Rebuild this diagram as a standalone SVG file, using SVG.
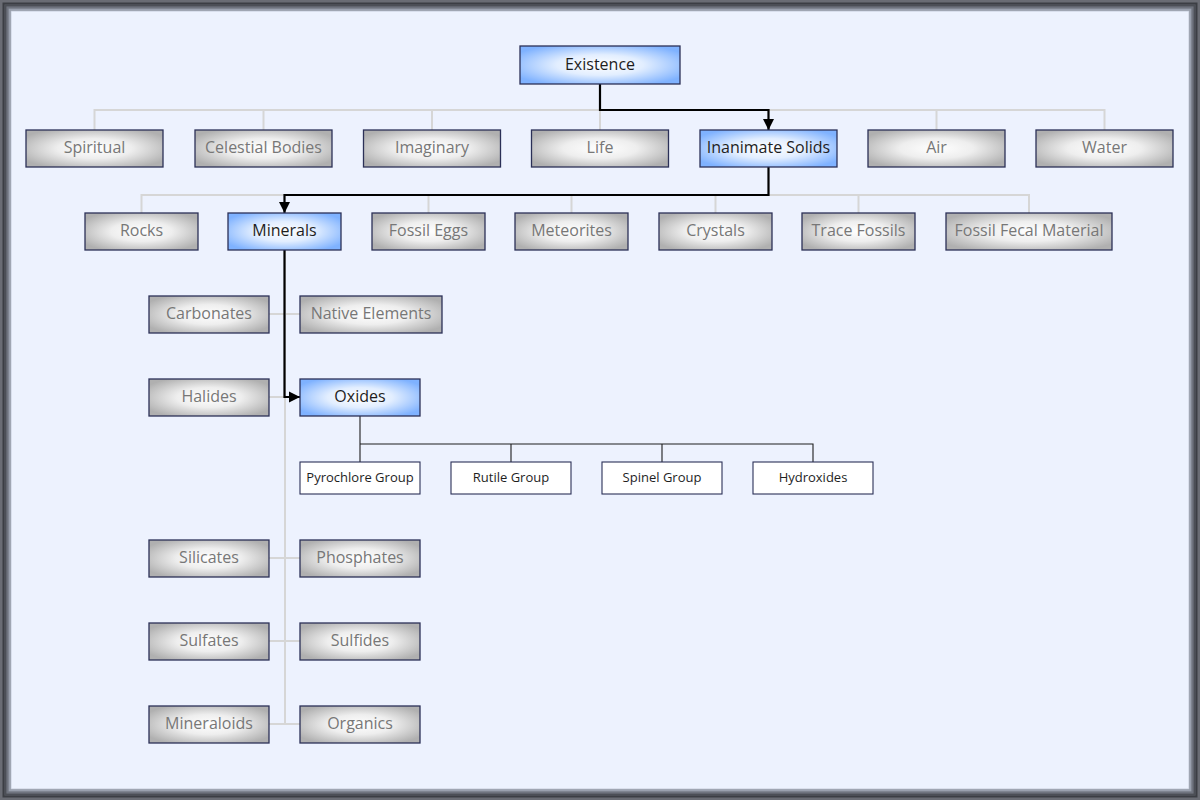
<svg xmlns="http://www.w3.org/2000/svg" width="1200" height="800" viewBox="0 0 1200 800">
<defs>
<radialGradient id="gGray" cx="50%" cy="50%" r="60%">
<stop offset="0" stop-color="#ffffff"/>
<stop offset="0.45" stop-color="#eeeeee"/>
<stop offset="1" stop-color="#b0b0b0"/>
</radialGradient>
<radialGradient id="gBlue" cx="50%" cy="50%" r="60%">
<stop offset="0" stop-color="#ffffff"/>
<stop offset="0.45" stop-color="#e2eeff"/>
<stop offset="1" stop-color="#7fb2ff"/>
</radialGradient>
<marker id="arr" viewBox="0 0 10 10" refX="10" refY="5" markerWidth="11" markerHeight="12" markerUnits="userSpaceOnUse" orient="auto">
<path d="M0,0 L10,5 L0,10 Z" fill="#000"/>
</marker>
</defs>
<style>
.g rect{fill:url(#gGray);stroke:#2b3057;stroke-width:1.3}
.b rect{fill:url(#gBlue);stroke:#2b3057;stroke-width:1.3}
.w rect{fill:#ffffff;stroke:#2b3057;stroke-width:1.1}
text{font-family:"Open Sans","DejaVu Sans",sans-serif;text-anchor:middle;dominant-baseline:central}
.g text{fill:#777777;font-size:16px}
.b text{fill:#1e1e1e;font-size:16px}
.w text{fill:#1e1e1e;font-size:13px}
.gl{fill:none;stroke:#d6d6d6;stroke-width:2}
.bl{fill:none;stroke:#000;stroke-width:2.2}
.tl{fill:none;stroke:#1e1e1e;stroke-width:1.1}
</style>
<!-- frame -->
<rect x="0" y="0" width="1200" height="800" fill="#5d6068"/>
<rect x="1.5" y="1.5" width="1197" height="797" fill="none" stroke="#6a6c74" stroke-width="3"/>
<rect x="3.5" y="3.5" width="1193" height="793" fill="none" stroke="#3c3e44" stroke-width="2"/>
<rect x="5.5" y="5.5" width="1189" height="789" fill="none" stroke="#4c4f56" stroke-width="2"/>
<rect x="7.5" y="7.5" width="1185" height="785" fill="none" stroke="#6f737e" stroke-width="2"/>
<rect x="9.5" y="9.5" width="1181" height="781" fill="none" stroke="#9aa0ae" stroke-width="2"/>
<rect x="11" y="11" width="1178" height="778" fill="#edf2fe" stroke="#c6ccdb" stroke-width="1"/>

<g id="connectors">
<path class="gl" d="M94.5,130 V110 H1104.5 V130 M263.5,110 V130 M432,110 V130 M600,110 V130 M936.5,110 V130"/>
<path class="gl" d="M141.5,213 V195 H1029 V213 M428.5,195 V213 M571.5,195 V213 M715.5,195 V213 M858.5,195 V213"/>
<path class="gl" d="M285,250 V724 M269,314 H300 M269,397 H300 M269,558 H300 M269,641 H300 M269,724 H300"/>
<path class="bl" d="M600,84 V110 H768.5 V130" marker-end="url(#arr)"/>
<path class="bl" d="M768.5,167 V195 H284.5 V213" marker-end="url(#arr)"/>
<path class="bl" d="M284.5,250 V397 H300" marker-end="url(#arr)"/>
<path class="tl" d="M360,416 V462 M360,444 H813 V462 M511,444 V462 M662,444 V462"/>
</g>

<g id="n-existence" class="b"><rect x="520" y="46" width="160" height="38"/><text x="600" y="63.5">Existence</text></g>

<g id="n-spiritual" class="g"><rect x="26" y="130" width="137" height="37"/><text x="94.5" y="147">Spiritual</text></g>
<g id="n-celestial" class="g"><rect x="195" y="130" width="137" height="37"/><text x="263.5" y="147">Celestial Bodies</text></g>
<g id="n-imaginary" class="g"><rect x="363.5" y="130" width="137" height="37"/><text x="432" y="147">Imaginary</text></g>
<g id="n-life" class="g"><rect x="531.5" y="130" width="137" height="37"/><text x="600" y="147">Life</text></g>
<g id="n-inanimate" class="b"><rect x="700" y="130" width="137" height="37"/><text x="768.5" y="147">Inanimate Solids</text></g>
<g id="n-air" class="g"><rect x="868" y="130" width="137" height="37"/><text x="936.5" y="147">Air</text></g>
<g id="n-water" class="g"><rect x="1036" y="130" width="137" height="37"/><text x="1104.5" y="147">Water</text></g>

<g id="n-rocks" class="g"><rect x="85" y="213" width="113" height="37"/><text x="141.5" y="230">Rocks</text></g>
<g id="n-minerals" class="b"><rect x="228" y="213" width="113" height="37"/><text x="284.5" y="230">Minerals</text></g>
<g id="n-fossileggs" class="g"><rect x="372" y="213" width="113" height="37"/><text x="428.5" y="230">Fossil Eggs</text></g>
<g id="n-meteorites" class="g"><rect x="515" y="213" width="113" height="37"/><text x="571.5" y="230">Meteorites</text></g>
<g id="n-crystals" class="g"><rect x="659" y="213" width="113" height="37"/><text x="715.5" y="230">Crystals</text></g>
<g id="n-tracefossils" class="g"><rect x="802" y="213" width="113" height="37"/><text x="858.5" y="230">Trace Fossils</text></g>
<g id="n-fecal" class="g"><rect x="946" y="213" width="166" height="37"/><text x="1029" y="230">Fossil Fecal Material</text></g>

<g id="n-carbonates" class="g"><rect x="149" y="296" width="120" height="37"/><text x="209" y="313">Carbonates</text></g>
<g id="n-native" class="g"><rect x="300" y="296" width="142" height="37"/><text x="371" y="313">Native Elements</text></g>
<g id="n-halides" class="g"><rect x="149" y="379" width="120" height="37"/><text x="209" y="396">Halides</text></g>
<g id="n-oxides" class="b"><rect x="300" y="379" width="120" height="37"/><text x="360" y="396">Oxides</text></g>
<g id="n-silicates" class="g"><rect x="149" y="540" width="120" height="37"/><text x="209" y="557">Silicates</text></g>
<g id="n-phosphates" class="g"><rect x="300" y="540" width="120" height="37"/><text x="360" y="557">Phosphates</text></g>
<g id="n-sulfates" class="g"><rect x="149" y="623" width="120" height="37"/><text x="209" y="640">Sulfates</text></g>
<g id="n-sulfides" class="g"><rect x="300" y="623" width="120" height="37"/><text x="360" y="640">Sulfides</text></g>
<g id="n-mineraloids" class="g"><rect x="149" y="706" width="120" height="37"/><text x="209" y="723">Mineraloids</text></g>
<g id="n-organics" class="g"><rect x="300" y="706" width="120" height="37"/><text x="360" y="723">Organics</text></g>

<g id="n-pyrochlore" class="w"><rect x="300" y="462" width="120" height="32"/><text x="360" y="476.5">Pyrochlore Group</text></g>
<g id="n-rutile" class="w"><rect x="451" y="462" width="120" height="32"/><text x="511" y="476.5">Rutile Group</text></g>
<g id="n-spinel" class="w"><rect x="602" y="462" width="120" height="32"/><text x="662" y="476.5">Spinel Group</text></g>
<g id="n-hydroxides" class="w"><rect x="753" y="462" width="120" height="32"/><text x="813" y="476.5">Hydroxides</text></g>
</svg>
